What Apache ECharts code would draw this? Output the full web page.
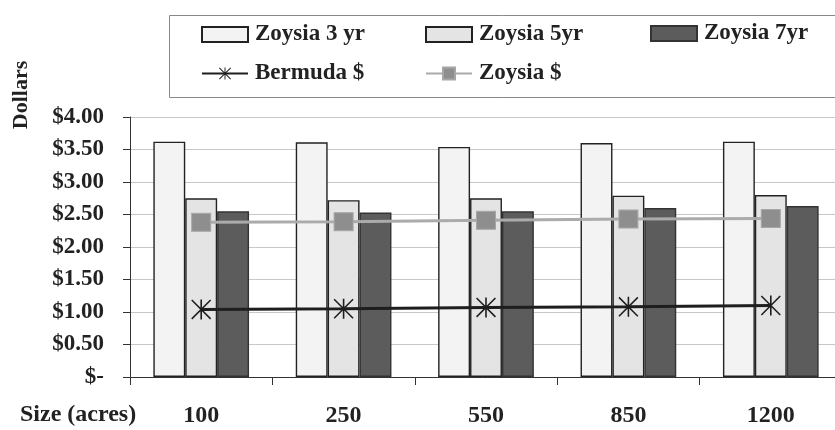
<!DOCTYPE html>
<html>
<head>
<meta charset="utf-8">
<script src="https://cdn.jsdelivr.net/npm/echarts@6/dist/echarts.min.js"></script>
<style>
html,body{margin:0;padding:0;background:#fff;}
#chart{width:835px;height:430px;}
</style>
</head>
<body>
<div id="chart"></div>
<script>
const categories = ['100', '250', '550', '850', '1200'];
const zoysia3yr = [3.62, 3.61, 3.54, 3.60, 3.62];
const zoysia5yr = [2.75, 2.72, 2.75, 2.79, 2.80];
const zoysia7yr = [2.55, 2.53, 2.55, 2.60, 2.63];
const bermudaDollars = [1.04, 1.05, 1.07, 1.08, 1.10];
const zoysiaDollars = [2.38, 2.39, 2.41, 2.43, 2.44];
const yTickLabels = ['$-', '$0.50', '$1.00', '$1.50', '$2.00', '$2.50', '$3.00', '$3.50', '$4.00'];

const FONT = '"Liberation Serif", "Times New Roman", serif';
const asterisk = 'path://M9.2 0 L10.8 0 L10.8 20 L9.2 20 Z M0 1.1 L1.1 0 L20 18.9 L18.9 20 Z M18.9 0 L20 1.1 L1.1 20 L0 18.9 Z';

const chart = echarts.init(document.getElementById('chart'), null, {renderer: 'canvas'});

function legendItem(name, left, top, icon) {
  const l = {
    data: [name],
    left: left,
    top: top,
    itemWidth: 46,
    itemHeight: 15,
    itemGap: 0,
    padding: 0,
    textStyle: {fontFamily: FONT, fontWeight: 'bold', fontSize: 23, color: '#222', padding: [0, 0, 0, 2]},
    selectedMode: false
  };
  if (icon) l.icon = icon;
  return l;
}

const option = {
  animation: false,
  backgroundColor: '#ffffff',
  title: {
    text: 'Size (acres)',
    left: 20,
    top: 403,
    padding: 0,
    textStyle: {fontFamily: FONT, fontWeight: 'bold', fontSize: 24, color: '#222'}
  },
  graphic: [
    {
      type: 'rect',
      left: 167,
      top: 13,
      shape: {width: 720, height: 82},
      style: {fill: 'none', stroke: '#888', lineWidth: 1},
      silent: true
    },
    {
      type: 'text',
      x: 21,
      y: 95,
      rotation: Math.PI / 2,
      style: {
        text: 'Dollars',
        fontFamily: FONT, fontWeight: 'bold', fontSize: 22, fill: '#222',
        textAlign: 'center', textVerticalAlign: 'middle'
      }
    }
  ],
  legend: [
    legendItem('Zoysia 3 yr', 201, 23, 'rect'),
    legendItem('Zoysia 5yr', 425, 23, 'rect'),
    legendItem('Zoysia 7yr', 650, 22, 'rect'),
    legendItem('Bermuda $', 201, 62),
    legendItem('Zoysia $', 425, 62)
  ],
  grid: {left: 130, top: 117, height: 260, width: 712, containLabel: false, outerBoundsMode: 'none'},
  xAxis: {
    type: 'category',
    data: categories,
    axisLine: {lineStyle: {color: '#333', width: 1}},
    axisTick: {show: true, length: 8, lineStyle: {color: '#333'}},
    axisLabel: {fontFamily: FONT, fontWeight: 'bold', fontSize: 24, color: '#222', margin: 27},
    splitLine: {show: false}
  },
  yAxis: {
    type: 'value',
    min: 0,
    max: 4,
    interval: 0.5,
    axisLine: {show: true, lineStyle: {color: '#333', width: 1}},
    axisTick: {show: true, length: 7, lineStyle: {color: '#333'}},
    axisLabel: {
      fontFamily: FONT, fontWeight: 'bold', fontSize: 23, color: '#222', margin: 26,
      formatter: function (v) { return yTickLabels[Math.round(v / 0.5)]; }
    },
    splitLine: {show: true, lineStyle: {color: '#c8c8c8', width: 1}}
  },
  series: [
    {
      name: 'Zoysia 3 yr', type: 'bar', data: zoysia3yr,
      barWidth: '22.4%', barGap: '0%',
      itemStyle: {color: '#f3f3f3', borderColor: '#222', borderWidth: 1.4}
    },
    {
      name: 'Zoysia 5yr', type: 'bar', data: zoysia5yr,
      barWidth: '22.4%', barGap: '0%',
      itemStyle: {color: '#e4e4e4', borderColor: '#222', borderWidth: 1.4}
    },
    {
      name: 'Zoysia 7yr', type: 'bar', data: zoysia7yr,
      barWidth: '22.4%', barGap: '0%',
      itemStyle: {color: '#5c5c5c', borderColor: '#333', borderWidth: 1.4}
    },
    {
      name: 'Bermuda $', type: 'line', data: bermudaDollars,
      symbol: asterisk, symbolSize: 20, z: 5,
      lineStyle: {color: '#1e1e1e', width: 3},
      itemStyle: {color: '#1e1e1e', borderWidth: 0}
    },
    {
      name: 'Zoysia $', type: 'line', data: zoysiaDollars,
      symbol: 'rect', symbolSize: [19, 18], z: 4,
      lineStyle: {color: '#ababab', width: 3},
      itemStyle: {color: '#8e8e8e', borderColor: '#a6a6a6', borderWidth: 1}
    }
  ]
};
chart.setOption(option);
</script>
</body>
</html>
